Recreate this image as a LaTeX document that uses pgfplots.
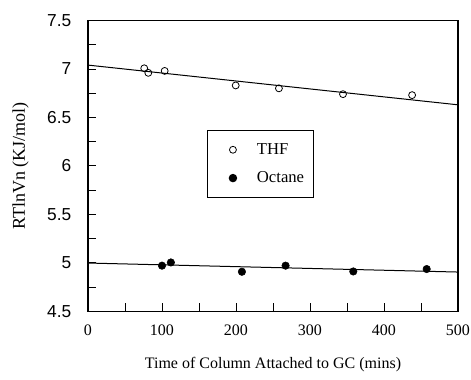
\documentclass[border=0pt]{standalone}
\usepackage{fontspec}
\setmainfont{Liberation Serif}
\setsansfont{Liberation Sans}
\usepackage{pgfplots}
\pgfplotsset{compat=1.18}
\begin{document}
\begin{tikzpicture}
\begin{axis}[
  scale only axis,
  width=277.5pt, height=218pt,
  xmin=0, xmax=500, ymin=4.5, ymax=7.5,
  xtick={0,100,...,500},
  minor xtick={50,150,250,350,450},
  ytick={4.5,5,...,7.5},
  minor ytick={4.75,5.25,5.75,6.25,6.75,7.25},
  yticklabels={4.5,5,5.5,6,6.5,7,7.5},
  tick align=inside,
  xtick pos=bottom, ytick pos=left,
  major tick length=6pt, minor tick length=6pt,
  /pgf/number format/assume math mode=true,
  xticklabel style={font=\fontsize{12}{14}\selectfont, yshift=-7pt},
  yticklabel style={font=\sffamily\fontsize{13}{15}\selectfont, xshift=-9pt},
  xlabel={Time of Column Attached to GC (mins)},
  ylabel={RTlnVn (KJ/mol)},
  xlabel style={font=\fontsize{12}{14}\selectfont, yshift=-9pt},
  ylabel style={font=\fontsize{13.5}{15}\selectfont, yshift=7pt},
  legend style={at={(0.322,0.625)}, anchor=north west, draw=black, line width=0.7pt,
    font=\fontsize{12.5}{14}\selectfont, inner xsep=5pt, inner ysep=8pt,
    row sep=7.5pt, cells={anchor=west}},
  legend image code/.code={\path[draw=none] (-14pt,0pt) -- (16pt,0pt); \draw[#1] plot coordinates {(0pt,0pt)};},
  legend cell align=left,
  axis line style={line width=0.8pt},
  every tick/.style={black, line width=0.7pt},
]
\addplot[only marks, mark=o, mark size=2.6pt, black, mark options={line width=0.6pt}] coordinates {
  (76,7.007) (81.5,6.96) (103.6,6.98) (199.6,6.83) (258,6.80) (344.6,6.74) (438,6.73)
};
\addlegendentry{THF}
\addplot[only marks, mark=*, mark size=2.8pt, black] coordinates {
  (100,4.97) (112,5.003) (208,4.907) (267,4.97) (358.5,4.91) (457.7,4.935)
};
\addlegendentry{Octane}
\addplot[black, line width=0.75pt, forget plot] coordinates {(0,7.04) (500,6.63)};
\addplot[black, line width=0.75pt, forget plot] coordinates {(0,4.997) (500,4.904)};
\end{axis}
\pgfresetboundingbox
\useasboundingbox (current axis.south west) ++(-66pt,-51pt) rectangle ([shift={(9.75pt,15.4pt)}]current axis.north east);
\end{tikzpicture}
\end{document}
